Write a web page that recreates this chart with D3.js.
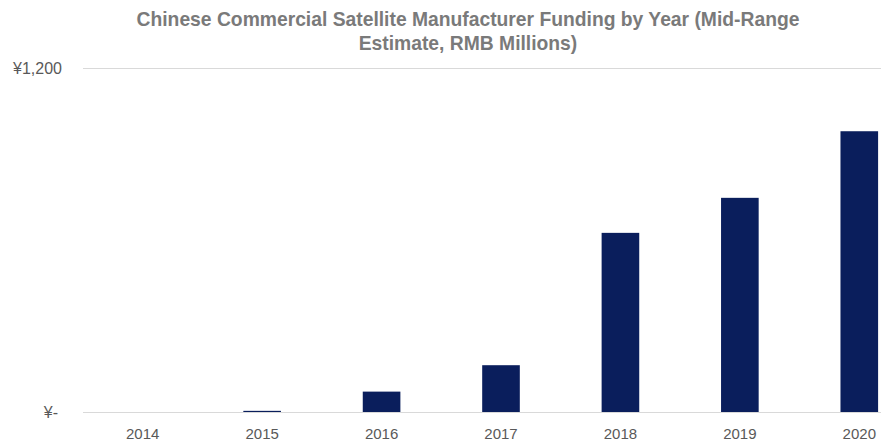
<!DOCTYPE html>
<html>
<head>
<meta charset="utf-8">
<script src="https://cdn.jsdelivr.net/npm/d3@7"></script>
<style>
  html, body { margin: 0; padding: 0; background: #ffffff; }
  svg { display: block; }
  text { font-family: "Liberation Sans", Arial, sans-serif; }
</style>
</head>
<body>
<svg id="chart" width="881" height="442"></svg>
<script>
// ---- data ----
const titleLines = ["Chinese Commercial Satellite Manufacturer Funding by Year (Mid-Range", "Estimate, RMB Millions)"];
const years = ["2014", "2015", "2016", "2017", "2018", "2019", "2020"];
const funding = [0, 4, 71, 163, 624, 746, 978];
const yTicks = [0, 1200];
const yTickLabels = ["¥-", "¥1,200"];

// ---- layout ----
const W = 881, H = 442;
const plotLeft = 83, plotRight = 919, plotTop = 67.5, plotBottom = 412;
const barColor = "#0a1e5c";
const gridColor = "#d9d9d9";
const textColor = "#595959";
const titleColor = "#7a7a7a";

const svg = d3.select("#chart");

const x = d3.scaleBand().domain(years).range([plotLeft, plotRight]).paddingInner(0.685).paddingOuter(0.3425);
const y = d3.scaleLinear().domain([0, 1200]).range([plotBottom, plotTop]);

// gridlines
svg.append("g").selectAll("line").data(yTicks).join("line")
  .attr("x1", plotLeft).attr("x2", W)
  .attr("y1", d => Math.round(y(d)) + 0.5).attr("y2", d => Math.round(y(d)) + 0.5)
  .attr("stroke", gridColor).attr("stroke-width", 1.2);

// bars
svg.append("g").selectAll("rect").data(years).join("rect")
  .attr("x", d => x(d))
  .attr("width", x.bandwidth())
  .attr("y", (d, i) => y(funding[i]))
  .attr("height", (d, i) => y(0) - y(funding[i]))
  .attr("fill", barColor);

// y axis labels
const yAxis = d3.axisLeft(y).tickValues(yTicks).tickFormat((d, i) => yTickLabels[i]).tickSize(0).tickPadding(0);
const yg = svg.append("g").attr("transform", `translate(62,0)`).call(yAxis);
yg.select(".domain").remove();
yg.selectAll("text")
  .attr("fill", textColor).style("font-size", "16px")
  .attr("dx", (d) => d === 0 ? -4 : 0)
  .attr("dy", "0.35em");

// x axis labels
const xAxis = d3.axisBottom(x).tickSize(0).tickPadding(0);
const xg = svg.append("g").attr("transform", `translate(0,${plotBottom})`).call(xAxis);
xg.select(".domain").remove();
xg.selectAll("text")
  .attr("fill", textColor).style("font-size", "15px")
  .attr("y", 27).attr("dy", 0);

// title
svg.append("g").selectAll("text").data(titleLines).join("text")
  .attr("x", 468)
  .attr("y", (d, i) => 26 + i * 24)
  .attr("text-anchor", "middle")
  .attr("fill", titleColor)
  .style("font-size", "19.3px")
  .style("font-weight", "bold")
  .text(d => d);
</script>
</body>
</html>
